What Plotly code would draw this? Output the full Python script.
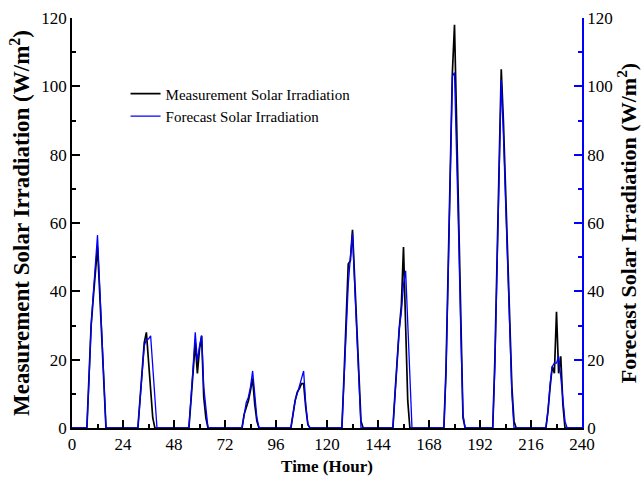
import plotly.graph_objects as go

# Measurement solar irradiation (black)
meas_hours = [0, 7, 8, 9, 10, 11, 12, 13, 14, 15, 16,
              31, 32, 33, 34, 35, 36, 37, 38, 39,
              55, 56, 57, 58, 59, 60, 61, 62, 63, 64,
              80, 81, 82, 83, 84, 85, 86, 87, 88,
              103, 104, 105, 106, 107, 108, 109, 110, 111, 112,
              127, 128, 129, 130, 131, 132, 133, 134, 135, 136, 137,
              151, 152, 153, 154, 155, 156, 157, 158, 159,
              175, 176, 177, 178, 179, 180, 181, 182, 183, 184, 185,
              198, 199, 200, 201, 202, 203, 204, 205, 206, 207, 208, 209,
              223, 224, 225, 226, 227, 228, 229, 230, 231, 232, 240]
meas_values = [0, 0, 15, 30, 38, 46, 53, 40, 27, 13, 0,
               0, 8, 17, 25, 28, 20, 11, 3, 0,
               0, 8, 17, 25, 16, 23, 27, 9, 3, 0,
               0, 4, 6, 8, 11, 14.5, 7, 2, 0,
               0, 4, 8, 10.5, 11.5, 13, 13, 6, 1, 0,
               0, 15, 32, 48, 49, 58, 44, 30, 16, 2, 0,
               0, 10, 20, 29, 36, 53, 30, 8, 0,
               0, 17, 45, 73, 104, 118, 87, 56, 25, 3, 0,
               0, 20, 48, 77, 105, 90, 72, 50, 30, 12, 2, 0,
               0, 5, 12, 18, 16, 34, 16, 21, 7, 0, 0]

# Forecast solar irradiation (blue)
fc_hours = [0, 7, 8, 9, 10, 11, 12, 13, 14, 15, 16,
            31, 32, 33, 34, 35, 36, 37, 38, 39, 40,
            55, 56, 57, 58, 59, 60, 61, 62, 63, 64,
            80, 81, 82, 83, 84, 85, 86, 87, 88,
            103, 104, 105, 106, 107, 108, 109, 110, 111, 112,
            127, 128, 129, 130, 131, 132, 133, 134, 135, 136,
            151, 152, 153, 154, 155, 156, 157, 158, 159, 160,
            175, 176, 177, 178, 179, 180, 181, 182, 183, 184, 185,
            198, 199, 200, 201, 202, 203, 204, 205, 206, 207, 208,
            223, 224, 225, 226, 227, 228, 229, 230, 231, 232, 233, 240]
fc_values = [0, 0, 14, 30, 39, 48, 56.5, 42, 28, 14, 0,
             0, 8, 17, 24, 26, 26, 27, 17, 7, 0,
             0, 8, 18, 28, 19.5, 24, 27, 12, 5, 0,
             0, 4, 7.5, 9, 12, 16.7, 9, 3, 0,
             0, 4, 8, 10, 12, 14, 16.7, 7, 1, 0,
             0, 14, 30, 42, 50, 57, 42, 27, 10, 0,
             0, 10, 20, 29, 34, 42, 46, 30, 12, 0,
             0, 16, 44, 72, 103, 104, 82, 55, 27, 4, 0,
             0, 18, 46, 75, 102, 86, 68, 45, 26, 10, 0,
             0, 5, 13, 18, 19, 19, 21, 15, 8, 2, 0, 0]

x_ticks = [0, 24, 48, 72, 96, 120, 144, 168, 192, 216, 240]
y_ticks = [0, 20, 40, 60, 80, 100, 120]

SERIF = "Liberation Serif"

fig = go.Figure()
fig.add_trace(go.Scatter(x=meas_hours, y=meas_values, mode="lines",
                         name="Measurement Solar Irradiation",
                         line=dict(color="#000000", width=1.7)))
fig.add_trace(go.Scatter(x=fc_hours, y=fc_values, mode="lines",
                         name="Forecast Solar Irradiation",
                         line=dict(color="#0000FF", width=1.3)))
# empty trace so the right-hand forecast axis is drawn
fig.add_trace(go.Scatter(x=[None], y=[None], yaxis="y2", mode="lines",
                         showlegend=False, hoverinfo="skip"))

axis_common = dict(showgrid=False, zeroline=False, ticks="inside", ticklen=8,
                   tickwidth=1.5, showline=True, linewidth=1.5, automargin=False,
                   tickfont=dict(family=SERIF, size=17, color="black"))

fig.update_layout(
    width=644, height=479,
    margin=dict(l=72, r=62, t=18, b=51),
    paper_bgcolor="white", plot_bgcolor="white",
    showlegend=True,
    legend=dict(x=0.105, y=0.855, xanchor="left", yanchor="top",
                bgcolor="rgba(0,0,0,0)",
                font=dict(family=SERIF, size=15, color="black")),
    xaxis=dict(range=[0, 240], tickvals=x_ticks, linecolor="black", tickcolor="black",
               minor=dict(dtick=12, tick0=0, ticks="inside", ticklen=4, tickwidth=1.5,
                          tickcolor="black"),
               title=dict(text="<b>Time (Hour)</b>", standoff=7,
                          font=dict(family=SERIF, size=17, color="black")),
               **axis_common),
    yaxis=dict(range=[0, 120], tickvals=y_ticks, linecolor="black", tickcolor="black",
               minor=dict(dtick=10, tick0=0, ticks="inside", ticklen=4, tickwidth=1.5,
                          tickcolor="black"),
               title=dict(text="<b>Measurement Solar Irradiation (W/m<sup>2</sup>)</b>",
                          standoff=5, font=dict(family=SERIF, size=23, color="black")),
               **axis_common),
    yaxis2=dict(range=[0, 120], tickvals=y_ticks, overlaying="y", side="right",
                linecolor="#0000FF", tickcolor="#0000FF",
                minor=dict(dtick=10, tick0=0, ticks="inside", ticklen=4, tickwidth=1.5,
                           tickcolor="#0000FF"),
                title=dict(text="<b>Forecast Solar Irradiation (W/m<sup>2</sup>)</b>",
                           standoff=6, font=dict(family=SERIF, size=22, color="black")),
                **axis_common),
)

fig.write_html("out.html")
